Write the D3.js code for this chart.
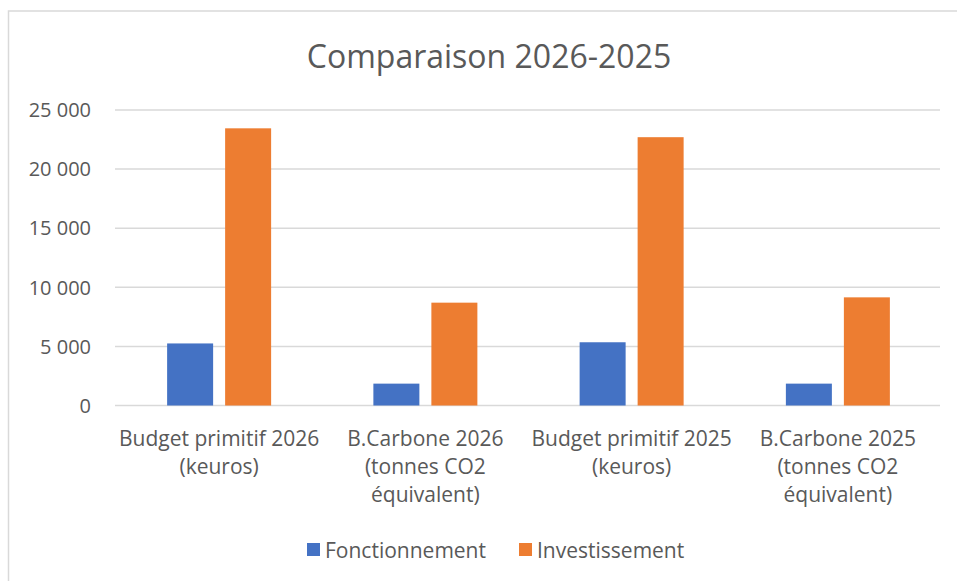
<!DOCTYPE html>
<html>
<head>
<meta charset="utf-8">
<script src="https://cdn.jsdelivr.net/npm/d3@7"></script>
<style>
  body { margin: 0; background: #fff; }
  text { font-family: "Open Sans", sans-serif; fill: #595959; }
</style>
</head>
<body>
<div id="chart"></div>
<script>
// categories (each label split on lines)
const categories = [
    ["Budget primitif 2026", "(keuros)"],
    ["B.Carbone 2026", "(tonnes CO2", "équivalent)"],
    ["Budget primitif 2025", "(keuros)"],
    ["B.Carbone 2025", "(tonnes CO2", "équivalent)"]
];
const seriesNames = ["Fonctionnement", "Investissement"];
const fonctionnement = [5250, 1850, 5350, 1850];
const investissement = [23450, 8700, 22700, 9150];
const yTicks = [0, 5000, 10000, 15000, 20000, 25000];
const colors = ["#4472c4", "#ed7d31"];

const width = 957;
const height = 581;
const margin = { top: 110, right: 17, bottom: 175.5, left: 115 };

const svg = d3.select("#chart")
    .append("svg")
    .attr("width", width)
    .attr("height", height);

// chart frame
svg.append("rect")
    .attr("x", 8.5)
    .attr("y", 11)
    .attr("width", width + 10)
    .attr("height", height + 10)
    .attr("fill", "none")
    .attr("stroke", "#d9d9d9")
    .attr("stroke-width", 1.5);

svg.append("text")
    .attr("x", 489)
    .attr("y", 68)
    .attr("text-anchor", "middle")
    .style("font-size", "32px")
    .text("Comparaison 2026-2025");

const x = d3.scaleBand()
    .domain(d3.range(categories.length))
    .range([margin.left, width - margin.right])
    .paddingInner(0)
    .paddingOuter(0);

const y = d3.scaleLinear()
    .domain([0, 25000])
    .range([height - margin.bottom, margin.top]);

const fmt = v => d3.format(",")(v).replace(/,/g, " ");

// gridlines
svg.append("g")
    .selectAll("line")
    .data(yTicks)
    .join("line")
    .attr("x1", margin.left)
    .attr("x2", width - margin.right)
    .attr("y1", d => y(d))
    .attr("y2", d => y(d))
    .attr("stroke", "#d9d9d9")
    .attr("stroke-width", 1.5);

// y labels
svg.append("g")
    .selectAll("text")
    .data(yTicks)
    .join("text")
    .attr("x", 91)
    .attr("y", d => y(d))
    .attr("dy", "0.36em")
    .attr("text-anchor", "end")
    .style("font-size", "20px")
    .text(d => fmt(d));

// bars
const barW = 46;
const gap = 12;
const sub = d3.scaleOrdinal()
    .domain([0, 1])
    .range([-(gap / 2) - barW, gap / 2]);

const series = [fonctionnement, investissement];
series.forEach((vals, s) => {
    svg.append("g")
        .selectAll("rect")
        .data(vals)
        .join("rect")
        .attr("x", (d, i) => x(i) + x.bandwidth() / 2 + 1 + sub(s))
        .attr("y", d => y(d))
        .attr("width", barW)
        .attr("height", d => y(0) - y(d))
        .attr("fill", colors[s]);
});

// x labels
const xl = svg.append("g")
    .selectAll("text")
    .data(categories)
    .join("text")
    .attr("x", (d, i) => x(i) + x.bandwidth() / 2 + 1)
    .attr("y", 446)
    .attr("text-anchor", "middle")
    .style("font-size", "21px");

xl.selectAll("tspan")
    .data(d => d)
    .join("tspan")
    .attr("x", function () { return d3.select(this.parentNode).attr("x"); })
    .attr("dy", (d, i) => i === 0 ? 0 : 28)
    .text(d => d);

// legend
const legendX = [307, 519];
const legend = svg.append("g")
    .selectAll("g")
    .data(seriesNames)
    .join("g")
    .attr("transform", (d, i) => `translate(${legendX[i]},550)`);

legend.append("rect")
    .attr("x", 0)
    .attr("y", -7)
    .attr("width", 13)
    .attr("height", 13)
    .attr("fill", (d, i) => colors[i]);

legend.append("text")
    .attr("x", 18)
    .attr("dy", "0.36em")
    .style("font-size", "21px")
    .text(d => d);
</script>
</body>
</html>
